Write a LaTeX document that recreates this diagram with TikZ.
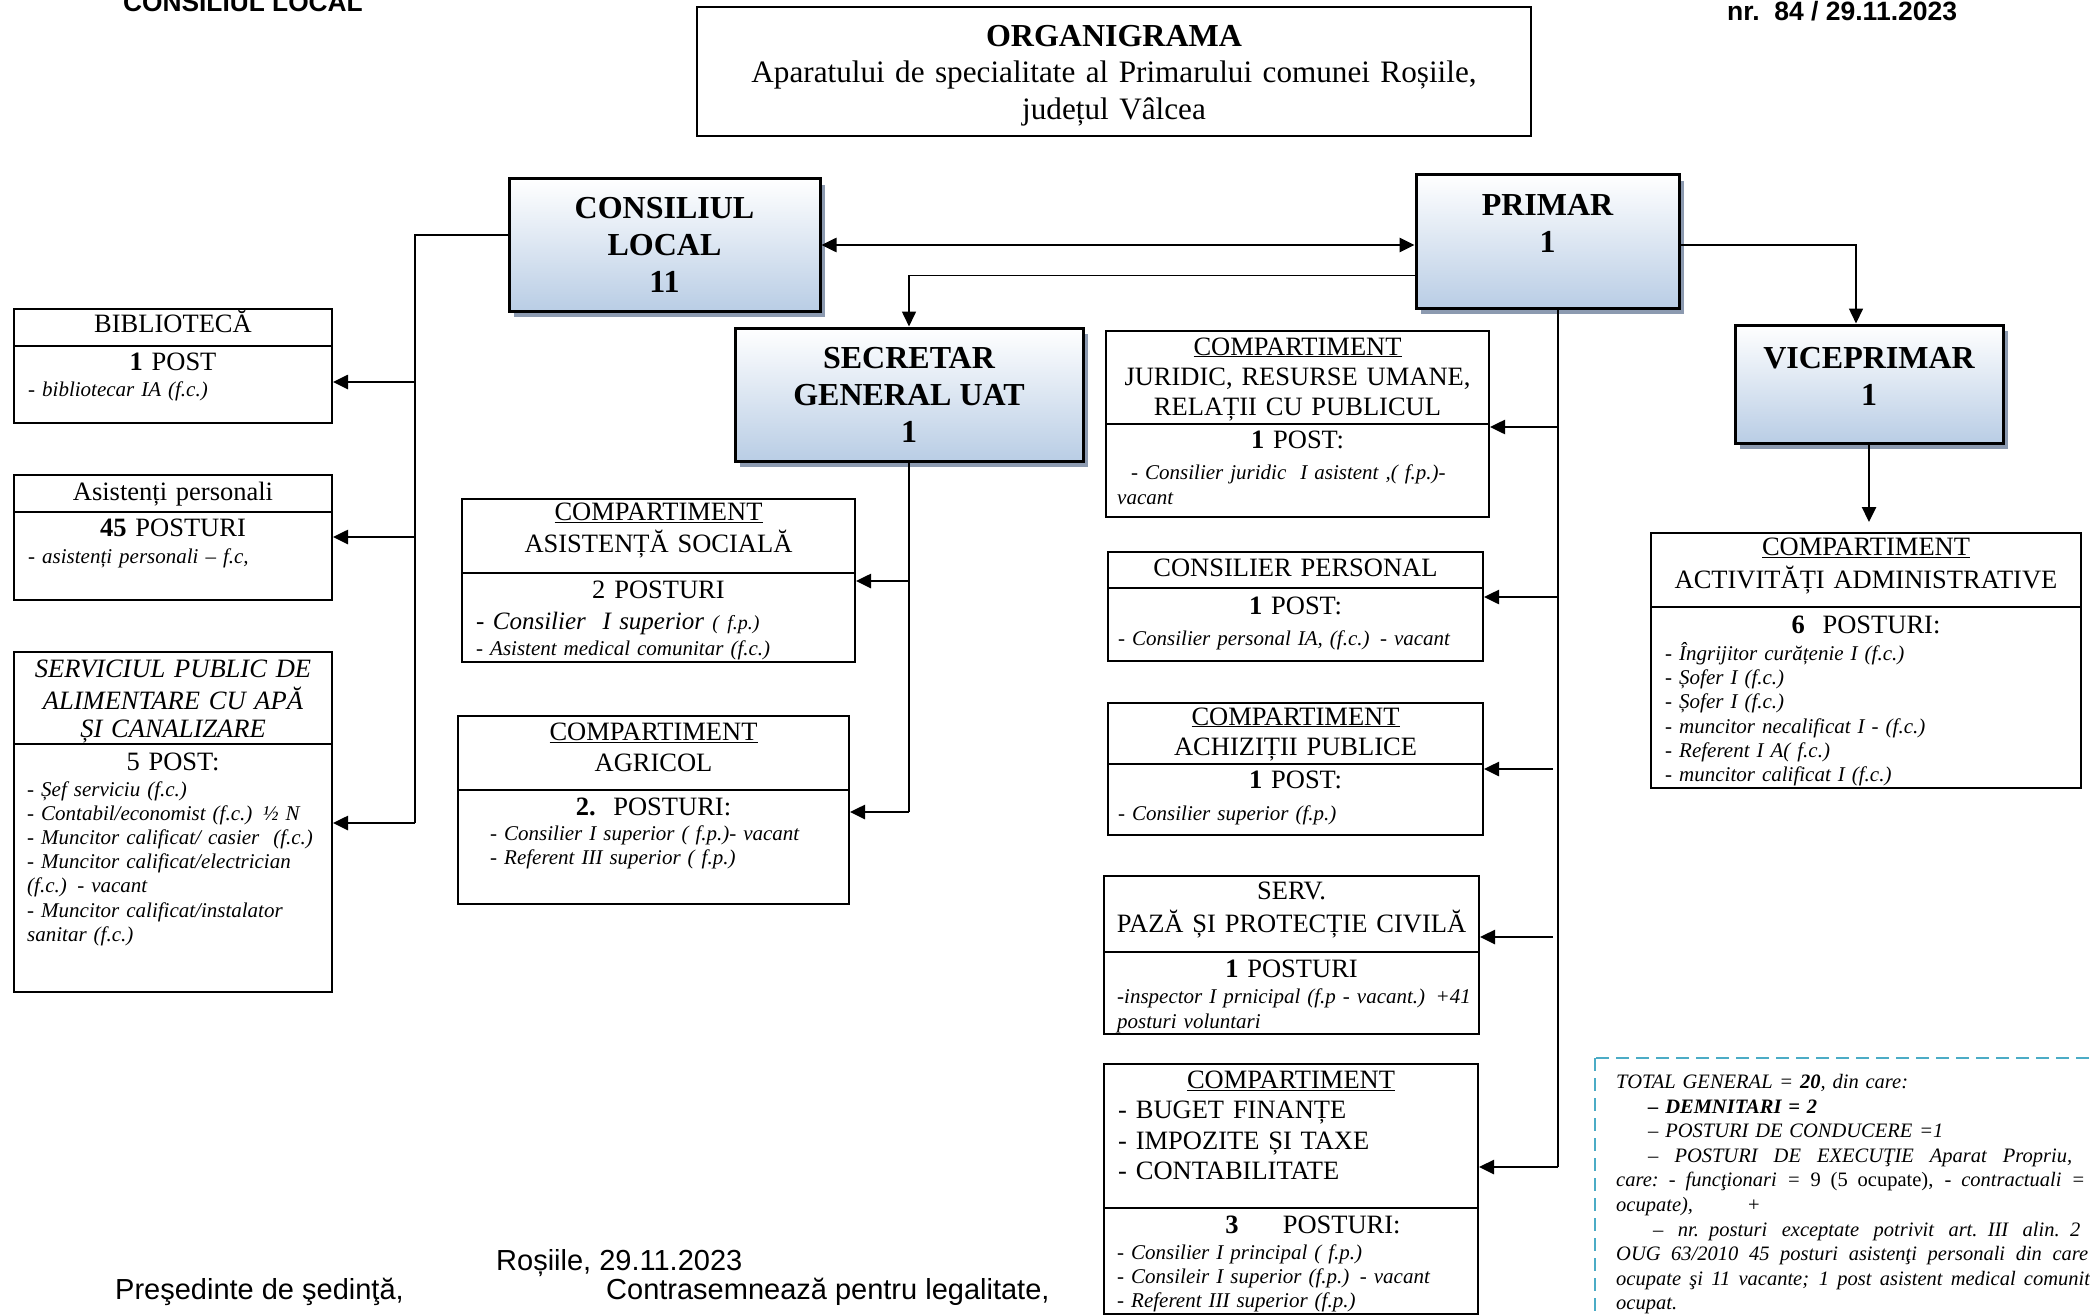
\documentclass[tikz,border=0pt]{standalone}
\usepackage{fontspec}
\setmainfont{Liberation Serif}
\setsansfont{Liberation Sans}
\usetikzlibrary{
  arrows.meta, % for the Triangle arrow tips
  shadows % for the shadow under the blue boxes
}
\definecolor{chiefblue}{RGB}{185,205,229}
\definecolor{chiefshadow}{RGB}{140,154,176}
\definecolor{notecyan}{RGB}{75,172,198}
% a justified line of given width (the node sets fixed word spaces)
\newcommand{\spreadline}[2]{\makebox[#1][s]{\spaceskip=.25em plus 1fil\relax #2}}
\tikzset{
  chief/.style={ % blue boxes of the leadership
    draw,line width=3pt, % thick black border
    inner sep=0pt,
    top color=white,bottom color=chiefblue, % white to light blue
    drop shadow={shadow xshift=5pt,shadow yshift=-6pt,fill=chiefshadow,opacity=1},
    font=\bfseries\fontsize{32}{37}\selectfont,
    align=center,
  },
  unit/.style={ % plain boxes of the departments
    draw,line width=2pt,
    inner sep=0pt,
    anchor=north west,
  },
  sep/.style={line width=2pt}, % line between name and posts
  head/.style={ % centred text inside a box
    inner sep=0pt,
    text width=420pt,align=center,
    font=\fontsize{26.5}{30.5}\selectfont,
    execute at begin node=\strut,execute at end node=\strut,
  },
  item/.style={ % list of posts, left aligned
    head,
    anchor=north west,align=left,text width=400pt,
    font=\itshape\fontsize{21}{24.5}\selectfont,
  },
  sign/.style={ % sans texts at the page edges
    anchor=base west,inner sep=0pt,
    font=\sffamily\fontsize{29}{32}\selectfont,
  },
  link/.style={line width=1.6pt}, % line without tip
  conn/.style={ % arrow into a box
    -{Triangle[length=15pt,width=14pt]},
    line width=2.6pt,
  },
  thinconn/.style={
    -{Triangle[length=15pt,width=14pt]},
    line width=1.6pt,
  },
  both/.style={
    {Triangle[length=15pt,width=14pt]}-{Triangle[length=15pt,width=14pt]},
    line width=2.6pt,
  },
  note/.style={ % dashed frame of the totals
    draw=notecyan,line width=2pt,dash pattern=on 13pt off 7pt,
  },
}

\begin{document}
\begin{tikzpicture}[x=1pt,y=-1pt]
  \useasboundingbox (0,0) rectangle (2090,1316);
  \clip (0,0) rectangle (2090,1316);

  % title and corner texts
  \node[unit,anchor=center,minimum width=834pt,minimum height=129pt] (title) at (1114,71.5) {};
  \node[head,text width=820pt,font=\fontsize{31.2}{36.5}\selectfont] (titleT) at (1114,75.5)
    {{\bfseries\fontsize{32}{36.5}\selectfont ORGANIGRAMA}\\
     Aparatului de specialitate al Primarului comunei Roșiile,\\
     județul Vâlcea};
  \node[sign,font=\sffamily\bfseries\fontsize{26.3}{30}\selectfont]
    (council) at (123,12) {CONSILIUL LOCAL};
  \node[sign,font=\sffamily\bfseries\fontsize{26.5}{30}\selectfont]
    (decision) at (1727,21) {nr.\ \ 84 / 29.11.2023};

  % leadership
  \node[chief,minimum width=311pt,minimum height=132pt] (cl) at (664.5,245)
    {CONSILIUL\\LOCAL\\11};
  \node[chief,minimum width=263pt,minimum height=133pt] (primar) at (1547.5,241.5)
    {PRIMAR\\1\\\mbox{}};
  \node[chief,minimum width=348pt,minimum height=133pt] (secretar) at (909,394.5)
    {SECRETAR\\GENERAL UAT\\1};
  \node[chief,minimum width=268pt,minimum height=118pt] (vice) at (1869,384)
    {VICEPRIMAR\\1\\[-22pt]\mbox{}};

  % under the local council
  \node[unit,minimum width=318pt,minimum height=114pt] (bib) at (13,308) {};
  \draw[sep] (bib.west |- 0,346) -- (bib.east |- 0,346);
  \node[head] (bibT) at (bib.north |- 0,326) {BIBLIOTECĂ};
  \node[head] (bibN) at (bib.north |- 0,364) {\textbf{1} POST};
  \node[item] (bibL) at (28,379) {- bibliotecar IA (f.c.)};

  \node[unit,minimum width=318pt,minimum height=125pt] (asist) at (13,474) {};
  \draw[sep] (asist.west |- 0,512) -- (asist.east |- 0,512);
  \node[head] (asistT) at (asist.north |- 0,494) {Asistenți personali};
  \node[head] (asistN) at (asist.north |- 0,530) {\textbf{45} POSTURI};
  \node[item] (asistL) at (28,546) {- asistenți personali – f.c,};

  \node[unit,minimum width=318pt,minimum height=340pt] (apa) at (13,651) {};
  \draw[sep] (apa.west |- 0,744) -- (apa.east |- 0,744);
  \node[head,font=\itshape\fontsize{26.5}{28}\selectfont] (apaT) at (apa.north |- 0,702)
    {SERVICIUL PUBLIC DE\\ALIMENTARE CU APĂ\\ȘI CANALIZARE};
  \node[head] (apaN) at (apa.north |- 0,764) {5 POST:};
  \node[item,font=\itshape\fontsize{21}{24.2}\selectfont] (apaL) at (27,779)
    {- Șef serviciu (f.c.)\\
     - Contabil/economist (f.c.) ½ N\\
     - Muncitor calificat/ casier\ \ (f.c.)\\
     - Muncitor calificat/electrician\\
     (f.c.) - vacant\\
     - Muncitor calificat/instalator\\
     sanitar (f.c.)};

  % under the general secretary
  \node[unit,minimum width=393pt,minimum height=163pt] (social) at (461,498) {};
  \draw[sep] (social.west |- 0,573) -- (social.east |- 0,573);
  \node[head,font=\fontsize{26.5}{28.5}\selectfont] (socialT) at (social.north |- 0,531)
    {\underline{COMPARTIMENT}\\ASISTENȚĂ SOCIALĂ};
  \node[head] (socialN) at (social.north |- 0,592) {2 POSTURI};
  \node[item,font=\itshape\fontsize{25}{28}\selectfont] (socialL) at (476,610)
    {- Consilier\ \ I superior {\fontsize{20}{22}\selectfont( f.p.)}};
  \node[item] (socialM) at (476,638) {- Asistent medical comunitar (f.c.)};

  \node[unit,minimum width=391pt,minimum height=188pt] (agricol) at (457,715) {};
  \draw[sep] (agricol.west |- 0,790) -- (agricol.east |- 0,790);
  \node[head,font=\fontsize{26.5}{31}\selectfont] (agricolT) at (agricol.north |- 0,749.5)
    {\underline{COMPARTIMENT}\\AGRICOL};
  \node[head] (agricolN) at (agricol.north |- 0,809) {\textbf{2.}\ \ POSTURI:};
  \node[item,font=\itshape\fontsize{21}{23.5}\selectfont] (agricolL) at (490,824)
    {- Consilier I superior ( f.p.)- vacant\\- Referent III superior ( f.p.)};

  % under the mayor
  \node[unit,minimum width=383pt,minimum height=186pt] (juridic) at (1105,330) {};
  \draw[sep] (juridic.west |- 0,424) -- (juridic.east |- 0,424);
  \node[head,font=\fontsize{26.5}{30}\selectfont] (juridicT) at (juridic.north |- 0,379)
    {\underline{COMPARTIMENT}\\JURIDIC, RESURSE UMANE,\\RELAȚII CU PUBLICUL};
  \node[head] (juridicN) at (juridic.north |- 0,442) {\textbf{1} POST:};
  \node[item,font=\itshape\fontsize{21}{25}\selectfont] (juridicL) at (1117,462)
    {\hspace*{14pt}- Consilier juridic\ \ I asistent ,( f.p.)-\\vacant};

  \node[unit,minimum width=375pt,minimum height=109pt] (personal) at (1107,551) {};
  \draw[sep] (personal.west |- 0,588) -- (personal.east |- 0,588);
  \node[head] (personalT) at (personal.north |- 0,570) {CONSILIER PERSONAL};
  \node[head] (personalN) at (personal.north |- 0,608) {\textbf{1} POST:};
  \node[item] (personalL) at (1118,628) {- Consilier personal IA, (f.c.) - vacant};

  \node[unit,minimum width=375pt,minimum height=132pt] (achizitii) at (1107,702) {};
  \draw[sep] (achizitii.west |- 0,764) -- (achizitii.east |- 0,764);
  \node[head,font=\fontsize{26.5}{30}\selectfont] (achizitiiT) at (achizitii.north |- 0,734)
    {\underline{COMPARTIMENT}\\ACHIZIȚII PUBLICE};
  \node[head] (achizitiiN) at (achizitii.north |- 0,782) {\textbf{1} POST:};
  \node[item] (achizitiiL) at (1118,803) {- Consilier superior (f.p.)};

  \node[unit,minimum width=375pt,minimum height=158pt] (paza) at (1103,875) {};
  \draw[sep] (paza.west |- 0,952) -- (paza.east |- 0,952);
  \node[head,font=\fontsize{26.5}{31}\selectfont] (pazaT) at (paza.north |- 0,909.5)
    {SERV.\\PAZĂ ȘI PROTECȚIE CIVILĂ};
  \node[head] (pazaN) at (paza.north |- 0,971) {\textbf{1} POSTURI};
  \node[item,font=\itshape\fontsize{21}{25}\selectfont] (pazaL) at (1117,986)
    {-inspector I prnicipal (f.p - vacant.) +41\\posturi voluntari};

  \node[unit,minimum width=374pt,minimum height=250pt] (buget) at (1103,1063) {};
  \draw[sep] (buget.west |- 0,1208) -- (buget.east |- 0,1208);
  \node[head] (bugetT) at (buget.north |- 0,1082) {\underline{COMPARTIMENT}};
  \node[head,anchor=north west,align=left] (bugetS) at (1118,1097)
    {- BUGET FINANȚE\\- IMPOZITE ȘI TAXE\\- CONTABILITATE};
  \node[head] (bugetN) at (1313,1227) {\textbf{3}\quad\ \ POSTURI:};
  \node[item,font=\itshape\fontsize{21}{24}\selectfont] (bugetL) at (1117,1242)
    {- Consilier I principal ( f.p.)\\
     - Consileir I superior (f.p.) - vacant\\
     - Referent III superior (f.p.)};

  % under the deputy mayor
  \node[unit,minimum width=430pt,minimum height=255pt] (admin) at (1650,532) {};
  \draw[sep] (admin.west |- 0,607) -- (admin.east |- 0,607);
  \node[head,font=\fontsize{26.5}{31}\selectfont] (adminT) at (admin.north |- 0,566)
    {\underline{COMPARTIMENT}\\ACTIVITĂȚI ADMINISTRATIVE};
  \node[head] (adminN) at (admin.north |- 0,627) {\textbf{6}\ \ POSTURI:};
  \node[item,font=\itshape\fontsize{21}{24.3}\selectfont] (adminL) at (1665,642)
    {- Îngrijitor curățenie I (f.c.)\\
     - Șofer I (f.c.)\\
     - Șofer I (f.c.)\\
     - muncitor necalificat I - (f.c.)\\
     - Referent I A( f.c.)\\
     - muncitor calificat I (f.c.)};

  % connections of the leadership
  \draw[both] (cl.east) -- (cl.east -| primar.west);
  \draw[thinconn] ([yshift=-34pt]primar.west) -| (secretar.north);
  \draw[thinconn] (primar.east |- cl.east) -| ([xshift=-13pt]vice.north);
  \draw[conn] (vice.south) -- ([yshift=10pt]vice.south |- admin.north);

  % local council line
  \coordinate (clturn) at (415,823);
  \coordinate (clbib) at (415,382);
  \coordinate (clasist) at (415,537);
  \draw[link] ([yshift=10pt]cl.west) -| (clturn);
  \draw[conn] (clbib) -- (clbib -| bib.east);
  \draw[conn] (clasist) -- (clasist -| asist.east);
  \draw[conn] (clturn) -- (clturn -| apa.east);

  % general secretary line
  \coordinate (secturn) at (secretar.south |- 0,812);
  \coordinate (secsocial) at (secretar.south |- 0,581);
  \draw[link] (secretar.south) -- (secturn);
  \draw[conn] (secsocial) -- (secsocial -| social.east);
  \draw[conn] (secturn) -- (secturn -| agricol.east);

  % mayor line
  \coordinate (pturn) at (1558,1167);
  \coordinate (pjuridic) at (1558,427);
  \coordinate (ppersonal) at (1558,597);
  \coordinate (pachizitii) at (1553,769);
  \coordinate (ppaza) at (1553,937);
  \draw[link] (primar.south -| pturn) -- (pturn);
  \draw[conn] (pjuridic) -- (pjuridic -| juridic.east);
  \draw[conn] (ppersonal) -- (ppersonal -| personal.east);
  \draw[conn] (pachizitii) -- (pachizitii -| achizitii.east);
  \draw[conn] (ppaza) -- (ppaza -| paza.east);
  \draw[conn] (pturn) -- (pturn -| buget.east);

  % totals
  \draw[note] (1595,1058) rectangle (2200,1400);
  \node[item,font=\itshape\fontsize{20.5}{24.6}\selectfont,text width=520pt] (total) at (1616,1071)
    {TOTAL GENERAL = \textbf{20}, din care:\\
     \hspace*{32pt}\textbf{– DEMNITARI = 2}\\
     \hspace*{32pt}– POSTURI DE CONDUCERE =1\\
     \spreadline{456pt}{\hspace*{32pt}– POSTURI DE EXECUŢIE Aparat Propriu,}\\
     \spreadline{469pt}{care: - funcţionari = \textup{9 (5 ocupate),} - contractuali =}\\
     ocupate),\hspace{55pt}\textup{+}\\
     \spreadline{464pt}{\hspace*{37pt}– nr. posturi exceptate potrivit art. III alin. 2}\\
     \spreadline{472pt}{OUG 63/2010 45 posturi asistenţi personali din care}\\
     \spreadline{492pt}{ocupate şi 11 vacante; 1 post asistent medical comunitar}\\
     ocupat.};

  % signatures
  \node[sign] (place) at (496,1270) {Roșiile, 29.11.2023};
  \node[sign] (chair) at (115,1299) {Preşedinte de şedinţă,};
  \node[sign] (clerk) at (606,1299) {Contrasemnează pentru legalitate,};
\end{tikzpicture}
\end{document}
